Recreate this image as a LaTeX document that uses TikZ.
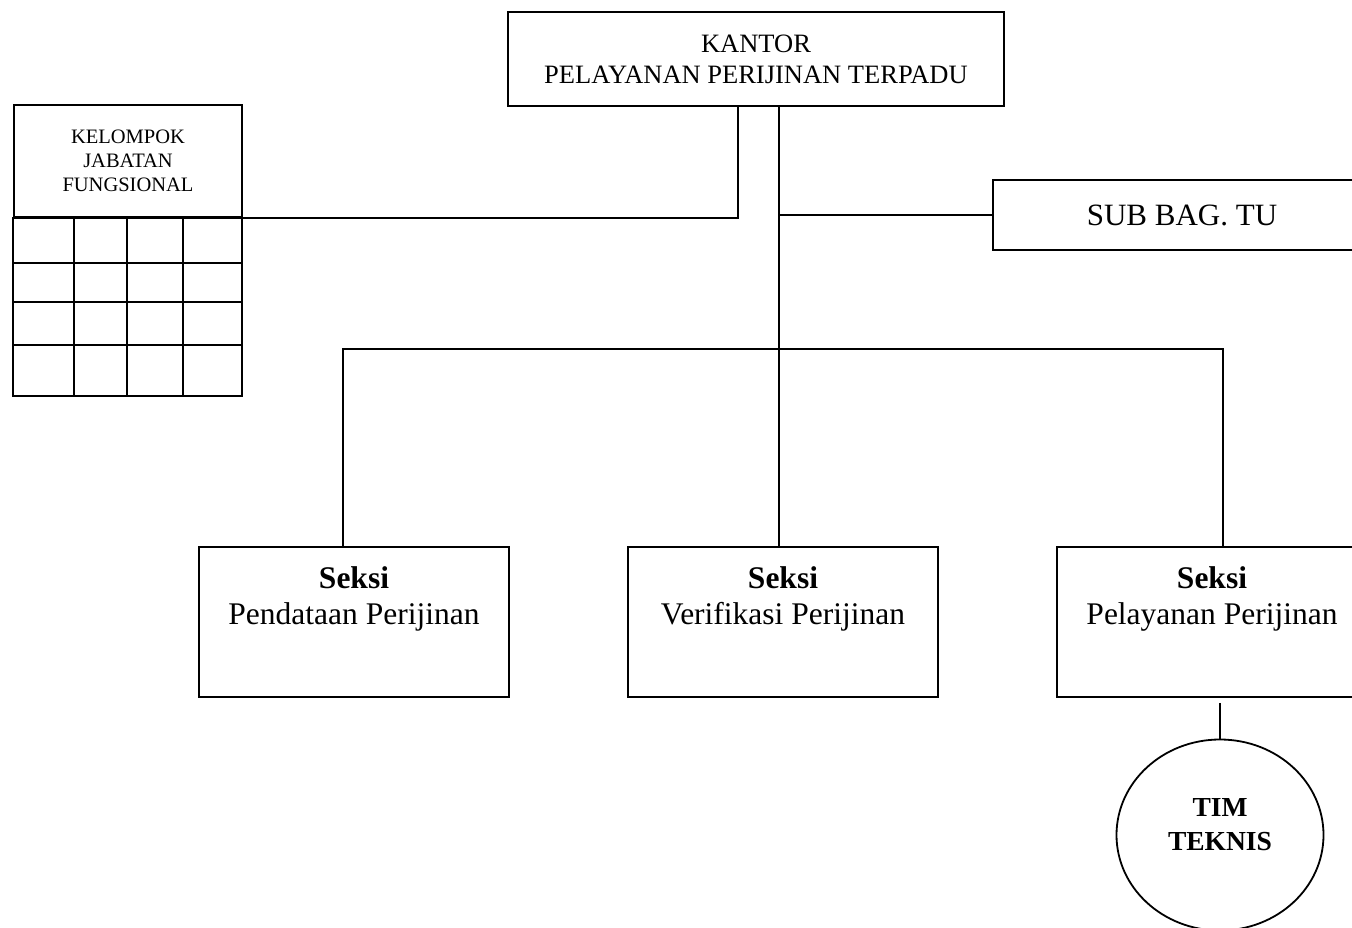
\documentclass[tikz,border=0pt]{standalone}
\usepackage{fontspec}
\setmainfont{Liberation Serif}
\usetikzlibrary{shapes.geometric}
\begin{document}
\begin{tikzpicture}[x=1pt, y=-1pt, line width=1.8pt,
  box/.style={draw, rectangle, inner sep=0pt, align=center},
  headtext/.style={font=\fontsize{26.5}{31}\selectfont},
  smalltext/.style={font=\fontsize{20.5}{24}\selectfont},
  bigtext/.style={font=\fontsize{31}{36}\selectfont},
  seksitext/.style={font=\fontsize{31.5}{36}\selectfont, align=center, inner sep=0pt, anchor=north, yshift=-20pt},
  timtext/.style={font=\bfseries\fontsize{27.5}{34}\selectfont, align=center, inner sep=0pt, yshift=10pt},
  seksi/.style={box, minimum width=310pt, minimum height=150pt}]
\useasboundingbox (0,0) rectangle (1352,928);
\clip (0,0) rectangle (1352,928);

% head office
\node[box, headtext, minimum width=496pt, minimum height=94pt] (kantor) at (756,59)
  {KANTOR\\PELAYANAN PERIJINAN TERPADU};

% functional group: heading with its grid underneath
\node[box, smalltext, minimum width=228pt, minimum height=112pt] (kjf) at (128,161)
  {KELOMPOK\\JABATAN\\FUNGSIONAL};
\draw (kjf.south west) rectangle (242,396);
\foreach \y in {263,302,345} \draw (14,\y) -- (242,\y);
\foreach \x in {74,127,183} \draw (\x,217) -- (\x,396);

% administration sub-section
\node[box, bigtext, minimum width=378pt, minimum height=70pt] (sub) at (1182,215) {SUB BAG. TU};

% sections
\node[seksi, label={[seksitext]north:{\textbf{Seksi}\\Pendataan Perijinan}}] (pend) at (354,622) {};
\node[seksi, label={[seksitext]north:{\textbf{Seksi}\\Verifikasi Perijinan}}] (verif) at (783,622) {};
\node[seksi, label={[seksitext]north:{\textbf{Seksi}\\Pelayanan Perijinan}}] (pel) at (1212,622) {};

% technical team
\node[draw, ellipse, inner sep=0pt, minimum width=207pt, minimum height=191pt,
  label={[timtext]center:{TIM\\TEKNIS}}] (tim) at (1220,835) {};

% connector points
\coordinate (jf) at (738,217);
\coordinate (trunk) at (779,349);
\coordinate (busL) at (343,349);
\coordinate (busR) at (1223,349);

% connectors
\draw (kantor.south -| jf) |- (kjf.south east);
\draw (kantor.south -| trunk) -- (verif.north -| trunk);
\draw (trunk |- sub.west) -- (sub.west);
\draw (pend.north -| busL) -- (busL) -- (busR) -- (pel.north -| busR);
\draw ([yshift=-5pt]pel.south -| tim.north) -- (tim.north);
\end{tikzpicture}
\end{document}
